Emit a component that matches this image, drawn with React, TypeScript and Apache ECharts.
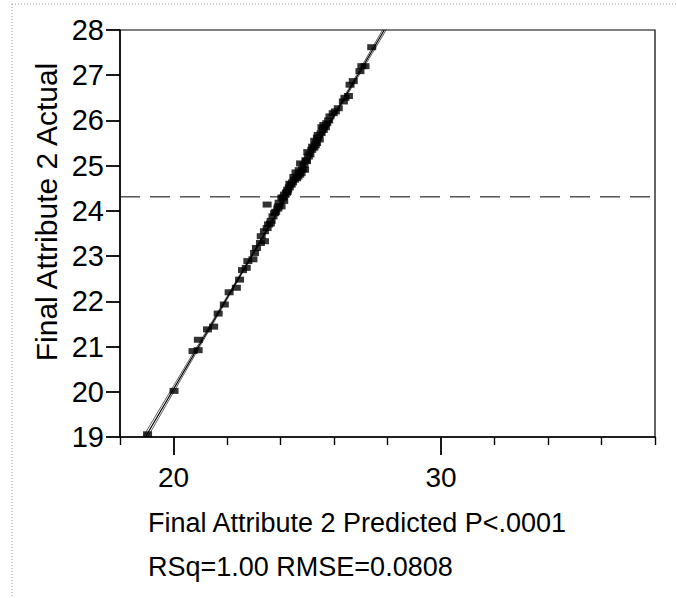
import React, { useEffect, useRef } from "react";
import * as echarts from "echarts";

// Predicted (x) vs Actual (y) values
const predicted = [
  19.03, 20.02, 20.73, 20.92, 20.93, 21.27, 21.5, 21.67, 21.9, 22.08,
  22.35, 22.47, 22.58, 22.72, 22.78, 22.97, 23.03, 23.1, 23.25, 23.4,
  23.28, 23.4, 23.5, 23.55, 23.65, 23.72, 23.82, 23.9, 23.95, 24.02,
  24.05, 24.12, 24.15, 24.22, 24.27, 24.33, 24.4, 24.45, 24.52, 24.6,
  24.65, 24.72, 24.77, 24.82, 24.9, 24.88, 24.97, 25.04, 25.1, 25.17,
  25.25, 25.3, 25.35, 25.41, 25.45, 25.52, 25.6, 25.68, 25.73, 25.8,
  25.85, 25.97, 26.05, 26.16, 26.35, 26.41, 26.54, 26.6, 26.72, 26.97,
  27.04, 27.16, 27.41,
  23.5, 23.62, 23.78, 23.92, 24.1, 24.25, 24.35, 24.5, 24.58, 24.7,
  24.75, 24.95, 25.02, 25.2, 25.28, 25.38, 25.55, 25.62,
];
const actual = [
  19.06, 20.02, 20.9, 20.92, 21.15, 21.38, 21.44, 21.73, 21.93, 22.2,
  22.3, 22.48, 22.69, 22.74, 22.89, 22.93, 23.07, 23.18, 23.29, 23.33,
  23.44, 23.55, 24.14, 23.7, 23.78, 23.88, 23.98, 24.05, 24.18, 24.1,
  24.29, 24.22, 24.36, 24.4, 24.47, 24.52, 24.58, 24.63, 24.69, 24.72,
  24.76, 24.8, 24.84, 24.92, 24.91, 25.02, 25.1, 25.2, 25.25, 25.35,
  25.4, 25.45, 25.5, 25.68, 25.58, 25.72, 25.79, 25.85, 25.94, 26.0,
  26.09, 26.16, 26.2, 26.27, 26.42, 26.5, 26.54, 26.79, 26.87, 27.09,
  27.2, 27.2, 27.62,
  23.62, 23.72, 23.95, 24.1, 24.3, 24.42, 24.6, 24.75, 24.85, 24.9,
  25.05, 25.12, 25.3, 25.42, 25.55, 25.62, 25.85, 25.9,
];

// Fit line and confidence curves
const fitX = [18.95, 27.88];
const fitY = [19.0, 28.0];
const upperX = [18.8, 18.95, 21.0, 23.0, 24.3, 26.0, 27.88];
const upperY = [18.93, 19.09, 21.116, 23.107, 24.412, 26.14, 28.07];
const lowerX = [18.95, 21.0, 23.0, 24.3, 26.0, 27.88, 28.0];
const lowerY = [18.91, 21.016, 23.057, 24.372, 26.07, 27.93, 28.05];

const meanActual = 24.31;

const xMajorTicks = [20, 30];
const xMinorTicks = [18, 22, 24, 26, 28, 32, 34, 36, 38];

const xTitle = "Final Attribute 2 Predicted P<.0001";
const statsText = "RSq=1.00 RMSE=0.0808";
const yTitle = "Final Attribute 2 Actual";

const FONT = '"Liberation Sans", Arial, sans-serif';

export default function App() {
  const ref = useRef<HTMLDivElement>(null);
  useEffect(() => {
    if (!ref.current) return;
    const chart = echarts.init(ref.current, null, { renderer: "svg" });
    const black = "#000";
    const option: any = {
      animation: false,
      backgroundColor: "#fff",
      textStyle: { fontFamily: FONT },
      grid: {
        left: 120,
        top: 30,
        right: 22,
        bottom: 161,
        show: true,
        borderColor: black,
        borderWidth: 1.2,
        backgroundColor: "transparent",
      },
      xAxis: [
        {
          type: "value",
          min: 18,
          max: 38,
          position: "bottom",
          axisLine: { show: true, onZero: false, lineStyle: { color: black, width: 1.5 } },
          axisTick: { show: true, customValues: xMajorTicks, length: 18, lineStyle: { color: black, width: 1.8 } },
          axisLabel: { customValues: xMajorTicks, color: black, fontSize: 28, margin: 26, fontFamily: FONT },
          splitLine: { show: false },
        },
        {
          type: "value",
          min: 18,
          max: 38,
          position: "bottom",
          axisLine: { show: false },
          axisTick: { show: true, customValues: xMinorTicks, length: 8, lineStyle: { color: black, width: 1.4 } },
          axisLabel: { show: false },
          splitLine: { show: false },
        },
      ],
      yAxis: {
        type: "value",
        min: 19,
        max: 28,
        interval: 1,
        axisLine: { show: true, onZero: false, lineStyle: { color: black, width: 1.5 } },
        axisTick: { show: true, length: 14, lineStyle: { color: black, width: 1.8 } },
        axisLabel: { color: black, fontSize: 29, margin: 16, fontFamily: FONT },
        splitLine: { show: false },
      },
      series: [
        {
          type: "line",
          data: [
            [18, meanActual],
            [38, meanActual],
          ],
          showSymbol: false,
          lineStyle: { color: black, width: 1, type: [20, 10] },
          z: 2,
        },
        {
          type: "line",
          data: upperX.map((x, i) => [x, upperY[i]]),
          showSymbol: false,
          smooth: true,
          lineStyle: { color: "#333", width: 0.8 },
          z: 3,
        },
        {
          type: "line",
          data: lowerX.map((x, i) => [x, lowerY[i]]),
          showSymbol: false,
          smooth: true,
          lineStyle: { color: "#333", width: 0.8 },
          z: 3,
        },
        {
          type: "line",
          data: fitX.map((x, i) => [x, fitY[i]]),
          showSymbol: false,
          lineStyle: { color: black, width: 1.2 },
          z: 4,
        },
        {
          type: "scatter",
          data: predicted.map((p, i) => [p, actual[i]]),
          symbol: "rect",
          symbolSize: [9, 6],
          itemStyle: { color: black },
          z: 5,
        },
      ],
      graphic: [
        {
          type: "line",
          shape: { x1: 12, y1: 4, x2: 677, y2: 4 },
          style: { stroke: "#999", lineWidth: 1, lineDash: [1, 2] },
        },
        {
          type: "line",
          shape: { x1: 12, y1: 4, x2: 12, y2: 598 },
          style: { stroke: "#999", lineWidth: 1, lineDash: [1, 2] },
        },
        {
          type: "text",
          x: 46,
          y: 212,
          rotation: Math.PI / 2,
          style: {
            text: yTitle,
            font: `30px ${FONT}`,
            fill: black,
            align: "center",
            verticalAlign: "middle",
          },
        },
        {
          type: "text",
          x: 148,
          y: 523,
          style: {
            text: xTitle,
            font: `27px ${FONT}`,
            fill: black,
            align: "left",
            verticalAlign: "middle",
          },
        },
        {
          type: "text",
          x: 148,
          y: 567,
          style: {
            text: statsText,
            font: `27px ${FONT}`,
            fill: black,
            align: "left",
            verticalAlign: "middle",
          },
        },
      ],
    };
    chart.setOption(option);
    return () => chart.dispose();
  }, []);
  return (
    <div
      ref={ref}
      style={{ position: "fixed", left: 0, top: 0, width: 677, height: 598, background: "#fff" }}
    />
  );
}
